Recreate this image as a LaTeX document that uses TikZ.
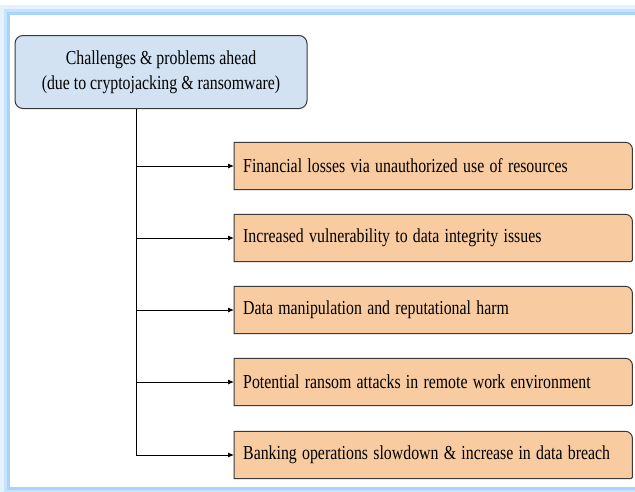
\documentclass[tikz,border=0pt]{standalone}
\usepackage{fontspec}
\usepackage{graphicx}
\setmainfont{Liberation Serif}
\usetikzlibrary{arrows.meta,backgrounds}
\definecolor{fb}{HTML}{A8D4FC}
\definecolor{topfill}{HTML}{D2E2F3}
\definecolor{boxfill}{HTML}{F8CBA0}
\definecolor{edge}{HTML}{3A3A3A}
\newcommand{\sqz}[1]{\scalebox{0.80}[1]{#1}}
\tikzset{
  txt/.style={font=\fontsize{19.8}{25}\selectfont, text=black},
  topbox/.style={txt, draw=edge, line width=1pt, fill=topfill, rounded corners=8pt,
     minimum width=292pt, minimum height=73pt, align=center, inner sep=0pt},
  itembox/.style={txt, anchor=west, minimum width=398pt, minimum height=47pt,
     text width=380pt, align=left, inner sep=0pt},
  boxline/.style={draw=edge, line width=1pt, fill=boxfill},
  conn/.style={draw=black, line width=0.9pt},
  arr/.style={conn, -{Latex[length=6pt,width=5pt]}}
}
\begin{document}
\begin{tikzpicture}[x=1pt,y=-1pt]
\useasboundingbox (0,0) rectangle (635,491);
\begin{pgfonlayer}{background}
\fill[white] (0,0) rectangle (635,491);
\draw[line width=10pt, fb!30] (5,10) rectangle (720,492);
\draw[line width=6pt, fb!65] (6.5,12) rectangle (720,490);
\draw[line width=3pt, fb] (8.5,13.5) rectangle (720,488.5);
\end{pgfonlayer}
% top node
\node[topbox] (top) at (161,72) {\sqz{Challenges \& problems ahead}\\\sqz{(due to cryptojacking \& ransomware)}};
% item nodes
\node[itembox] (b1) at (234,166) {\sqz{Financial losses via unauthorized use of resources}};
\node[itembox] (b2) at (234,238) {\sqz{Increased vulnerability to data integrity issues}};
\node[itembox] (b3) at (234,310) {\sqz{Data manipulation and reputational harm}};
\node[itembox] (b4) at (234,382) {\sqz{Potential ransom attacks in remote work environment}};
\node[itembox] (b5) at (234,455) {\sqz{Banking operations slowdown \& increase in data breach}};
\begin{pgfonlayer}{background}
\foreach \b in {b1,b2,b3,b4,b5}{
  \path[boxline] (\b.south west) -- (\b.north west) [rounded corners=7pt] -- (\b.north east) [rounded corners=1.5pt] -- (\b.south east) [sharp corners] -- cycle;
}
\end{pgfonlayer}
% connectors
\coordinate (t0) at (136,456);
\draw[conn] (top.south -| t0) -- (t0);
\foreach \b in {b1,b2,b3,b4,b5}{
  \draw[arr] (\b.west -| t0) -- (\b.west);
}
\end{tikzpicture}
\end{document}
